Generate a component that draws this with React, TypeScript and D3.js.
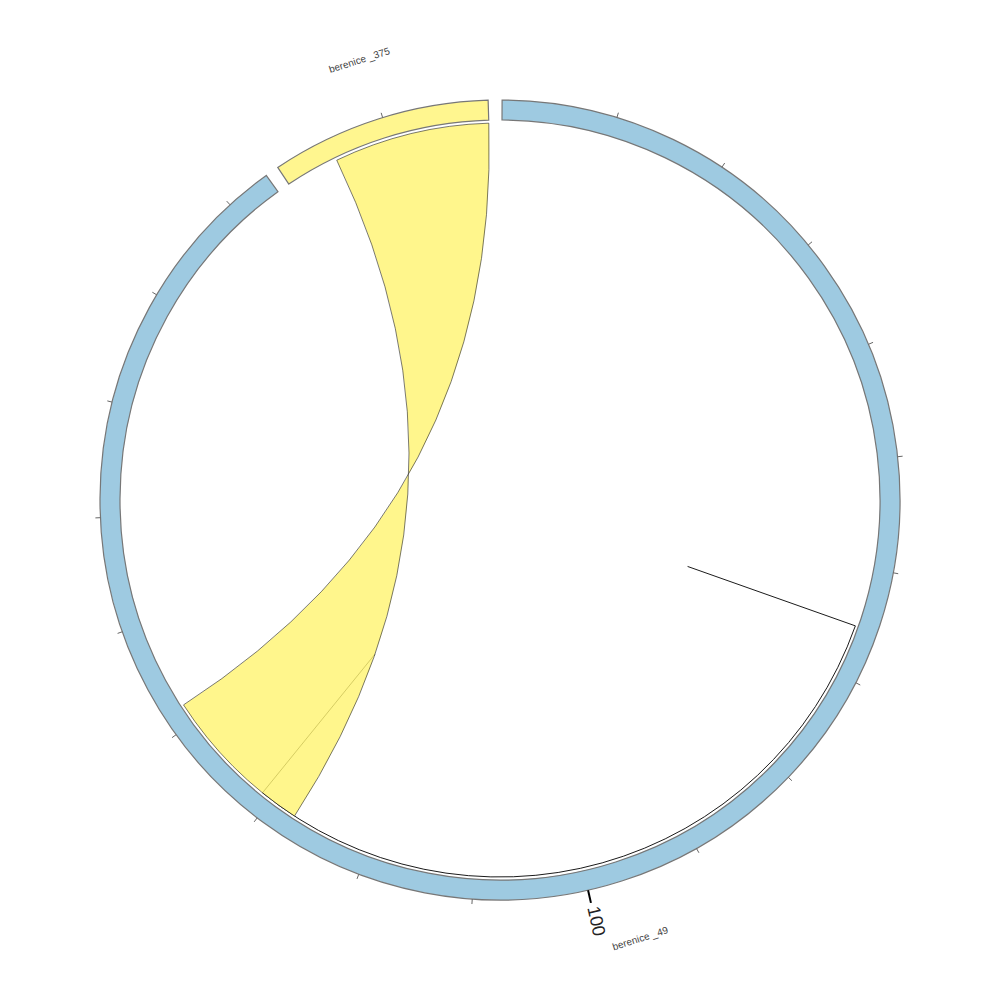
import React from "react";
import * as d3 from "d3";

// ---- data ----
const sectorNames = ["berenice_49", "berenice_375"];
const sectorLabels = ["berenice _49", "berenice _375"];
const sectorTotals = [194, 19.2];
const sectorColors = ["#9ECAE1", "#FFF68F"];

// link between sectors (value ranges on each sector)
const linkSource = ["berenice_375"];
const linkSourceRange = [[4.85, 19.2]];
const linkTarget = ["berenice_49"];
const linkTargetRange = [[127.4, 141.8]];

// self link on berenice_49
const selfLinkSector = ["berenice_49"];
const selfLinkRange = [[65.4, 131.0]];

const tickStep = 10;
const majorTickStep = 100;

// ---- layout constants ----
const W = 1000;
const CX = 500;
const CY = 500;
const R_OUT = 400;
const R_IN = 380;
const R_LINK = 377;
const R_SELF_INNER = 199;
const GAP_DEG = 2;
const START_DEG = 0.3;

const rad = (d: number) => (d * Math.PI) / 180;

export default function App() {
  const total = d3.sum(sectorTotals);
  const k = (360 - GAP_DEG * sectorTotals.length) / total;
  let cur = START_DEG;
  const scales: Record<string, d3.ScaleLinear<number, number>> = {};
  const sectors = sectorNames.map((name, i) => {
    const s = cur;
    const e = cur + sectorTotals[i] * k;
    cur = e + GAP_DEG;
    scales[name] = d3.scaleLinear().domain([0, sectorTotals[i]]).range([rad(s), rad(e)]);
    return { name, label: sectorLabels[i], color: sectorColors[i], s: rad(s), e: rad(e), total: sectorTotals[i] };
  });

  const arcGen = d3.arc<any>().innerRadius(R_IN).outerRadius(R_OUT);
  const pt = (a: number, r: number): [number, number] => [r * Math.sin(a), -r * Math.cos(a)];
  const pa = (a: number) => a - Math.PI / 2;

  const links = linkSource.map((src, i) => {
    const sa0 = scales[src](linkSourceRange[i][0]);
    const sa1 = scales[src](linkSourceRange[i][1]);
    const ta0 = scales[linkTarget[i]](linkTargetRange[i][0]);
    const ta1 = scales[linkTarget[i]](linkTargetRange[i][1]);
    const p = d3.path();
    const s0 = pt(sa0, R_LINK);
    p.moveTo(s0[0], s0[1]);
    p.arc(0, 0, R_LINK, pa(sa0), pa(sa1), false);
    const t1 = pt(ta1, R_LINK);
    p.quadraticCurveTo(0, 0, t1[0], t1[1]);
    p.arc(0, 0, R_LINK, pa(ta1), pa(ta0), true);
    p.quadraticCurveTo(0, 0, s0[0], s0[1]);
    p.closePath();
    return p.toString();
  });

  const selfLinks = selfLinkSector.map((sec, i) => {
    const a0 = scales[sec](selfLinkRange[i][0]);
    const a1 = scales[sec](selfLinkRange[i][1]);
    const p = d3.path();
    const q0 = pt(a0, R_SELF_INNER);
    const q1 = pt(a0, R_LINK);
    const q3 = pt(a1, R_SELF_INNER);
    p.moveTo(q0[0], q0[1]);
    p.lineTo(q1[0], q1[1]);
    p.arc(0, 0, R_LINK, pa(a0), pa(a1), false);
    p.lineTo(q3[0], q3[1]);
    return p.toString();
  });

  const ticks: { a: number; major: boolean; v: number }[] = [];
  sectors.forEach((sec) => {
    const sc = scales[sec.name];
    d3.range(tickStep, sec.total, tickStep).forEach((v) => {
      ticks.push({ a: sc(v), major: v % majorTickStep === 0, v });
    });
  });

  return (
    <svg width={W} height={W} style={{ position: "absolute", left: 0, top: 0, background: "#fff" }}>
      <g transform={`translate(${CX},${CY})`}>
        {selfLinks.map((d, i) => (
          <path key={"sl" + i} d={d} fill="none" stroke="#000" strokeWidth={0.9} />
        ))}
        {links.map((d, i) => (
          <path key={"l" + i} d={d} fill="#FFF473" fillOpacity={0.82} stroke="#222" strokeWidth={0.6} />
        ))}
        {sectors.map((sec) => (
          <path
            key={sec.name}
            d={arcGen({ startAngle: sec.s, endAngle: sec.e }) as string}
            fill={sec.color}
            stroke="#777"
            strokeWidth={1.2}
          />
        ))}
        {ticks.map((t, i) => {
          const p0 = pt(t.a, R_OUT);
          const p1 = pt(t.a, t.major ? R_OUT + 13 : R_OUT + 5);
          return (
            <line
              key={"t" + i}
              x1={p0[0]}
              y1={p0[1]}
              x2={p1[0]}
              y2={p1[1]}
              stroke={t.major ? "#000" : "#666"}
              strokeWidth={t.major ? 2 : 1}
            />
          );
        })}
        {ticks
          .filter((t) => t.major)
          .map((t, i) => {
            const p = pt(t.a, R_OUT + 17);
            const rot = (t.a * 180) / Math.PI - 90;
            return (
              <text
                key={"tl" + i}
                transform={`translate(${p[0]},${p[1]}) rotate(${rot})`}
                fontFamily="Liberation Sans, Arial, sans-serif"
                fontSize={18}
                fill="#222"
                dominantBaseline="middle"
                textAnchor="start"
              >
                {t.v}
              </text>
            );
          })}
        {sectors.map((sec) => {
          const mid = (sec.s + sec.e) / 2;
          const p = pt(mid, 461);
          let rot = (mid * 180) / Math.PI;
          if (rot > 90 && rot < 270) rot -= 180;
          return (
            <text
              key={"lab" + sec.name}
              transform={`translate(${p[0]},${p[1]}) rotate(${rot})`}
              fontFamily="Liberation Sans, Arial, sans-serif"
              fontSize={10}
              fill="#444"
              textAnchor="middle"
              dominantBaseline="middle"
            >
              {sec.label}
            </text>
          );
        })}
      </g>
    </svg>
  );
}
